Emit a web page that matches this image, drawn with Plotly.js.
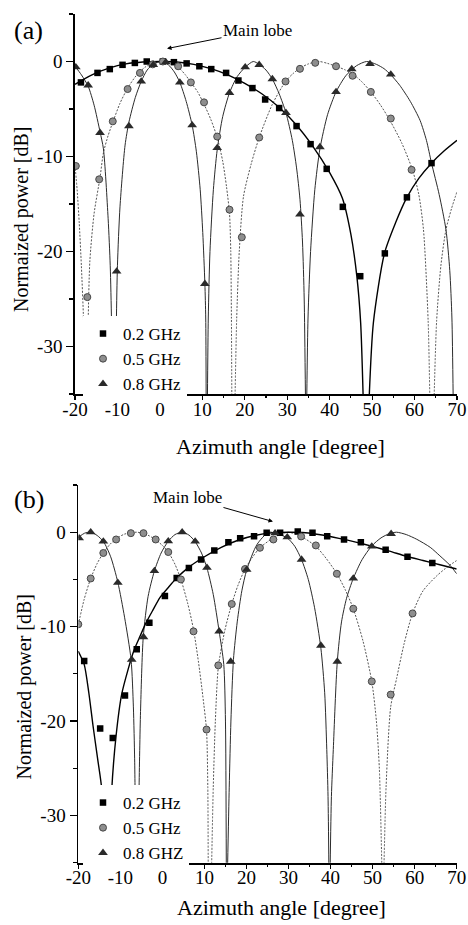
<!DOCTYPE html>
<html>
<head>
<meta charset="utf-8">
<script src="https://cdn.plot.ly/plotly-3.0.1.min.js"></script>
<style>html,body{margin:0;padding:0;background:#fff;}#chart{width:468px;height:925px;}</style>
</head>
<body>
<div id="chart"></div>
<script>
// ---------- tick labels ----------
const xTickVals = [-20, -10, 0, 10, 20, 30, 40, 50, 60, 70];
const xTickText = ['-20', '-10', '0', '10', '20', '30', '40', '50', '60', '70'];
const yTickVals = [-30, -20, -10, 0];
const yTickText = ['-30', '-20', '-10', '0'];

// ---------- series names ----------
const namesA = ['0.2 GHz', '0.5 GHz', '0.8 GHz'];
const namesB = ['0.2 GHz', '0.5 GHz', '0.8 GHZ'];

// ---------- panel (a): measured points ----------
const aSqX = [-18.6, -14.7, -11.8, -8.8, -5.9, -3.1, 0.7, 3.3, 6.3, 9.3, 12.1, 15.6, 18.5, 21.8, 24.8, 28.1, 32.2, 35.5, 39.3, 43.1, 47.2, 53.0, 58.2, 64.0];
const aSqY = [-2.2, -1.2, -0.8, -0.35, -0.15, 0, 0, -0.07, -0.2, -0.5, -0.8, -1.2, -2.0, -2.8, -4.0, -4.9, -6.8, -8.7, -11.3, -15.3, -22.6, -20.2, -14.3, -10.7];
const aCirX = [-19.8, -17.1, -14.3, -11.1, -7.6, -4.7, -1.7, 0.7, 4.3, 7.3, 10.4, 13.5, 16.4, 19.3, 23.4, 29.6, 33.0, 36.6, 41.5, 45.4, 49.7, 54.4, 59.3];
const aCirY = [-11.0, -24.8, -12.4, -6.3, -2.9, -1.2, -0.3, 0, -0.5, -2.2, -4.3, -7.9, -15.6, -18.5, -8.0, -2.1, -0.77, -0.14, -0.5, -1.5, -3.2, -6.0, -11.4];
const aTriX = [-19.8, -16.9, -14.1, -10.2, -7.3, -4.4, -1.55, 1.4, 4.7, 7.6, 10.6, 13.5, 16.4, 20.1, 23.4, 26.5, 29.7, 33.0, 37.7, 41.5, 45.2, 49.5, 54.4];
const aTriY = [-0.6, -2.5, -7.5, -22.1, -6.8, -2.1, -0.35, -0.07, -2.2, -6.7, -23.4, -9.1, -3.3, -0.6, -0.35, -1.85, -5.4, -16.1, -9.0, -3.2, -0.8, -0.25, -1.36];

// ---------- panel (a): calculated curves ([angle, dB], null = gap) ----------
const a02Line = [[-20,-2.4],[-16,-1.4],[-12,-0.7],[-8,-0.25],[-4,-0.05],[0,0],[4,-0.05],[8,-0.3],[12,-0.75],[16,-1.4],[20,-2.3],[24,-3.4],[28,-4.8],[32,-6.6],[36,-8.9],[40,-11.7],[43,-14.4],[45,-18.2],[46.4,-22.6],[47.3,-27.5],[47.9,-35.5],
  null,[49.3,-35.5],[50.3,-27.5],[52.9,-20.2],[55.5,-17],[58.2,-14.3],[61,-12.3],[64,-10.7],[67,-9.4],[70,-8.3]];
const a05Line = [[-20,-10.9],[-19.5,-13.5],[-19,-17],[-18.5,-21.5],[-18,-27.2],[-17.8,-35.5],
  null,[-17.2,-35.5],[-16.9,-27.3],[-16.5,-21],[-15.5,-16],[-14.1,-12.2],[-13.3,-9.6],[-12.2,-7.8],[-11.1,-6.4],[-9.4,-4.4],[-7.6,-2.8],[-5.6,-1.5],[-3.5,-0.6],[-1.5,-0.15],[0.5,0],[2.5,-0.2],[4.3,-0.6],[6,-1.4],[7.3,-2.2],[8.9,-3.2],[10.4,-4.5],[12,-6.1],[13.5,-8],[14.8,-10.5],[15.7,-13.2],[16.4,-16],[16.7,-20],[16.85,-27],[16.95,-35.5],
  null,[17.7,-35.5],[18.1,-27],[18.7,-20],[19.7,-14.2],[21.5,-10.8],[23.4,-8],[26.5,-4.5],[29.6,-2.1],[31.3,-1.3],[33,-0.7],[35,-0.25],[37.5,0],[39.5,-0.2],[41.5,-0.5],[43.5,-0.85],[45.4,-1.3],[47.5,-2.1],[49.7,-3.2],[52,-4.6],[54.2,-6.2],[57,-8.6],[59.5,-11.4],[61,-14],[62.1,-17.7],[63.2,-27.3],[63.6,-35.5],
  null,[64.6,-35.5],[65.2,-27.3],[66.2,-21.5],[67.4,-17.7],[68.7,-15.5],[70,-13.7]];
const a08Line = [[-20,-0.5],[-18.5,-1.4],[-16.9,-2.6],[-15.5,-4.6],[-14.1,-7.4],[-13.3,-9.2],[-12.2,-16.5],[-11.7,-21.5],[-11.4,-27.3],[-11.2,-35.5],
  null,[-10.5,-35.5],[-10.25,-27.3],[-10.0,-21.5],[-9.4,-15.3],[-8.2,-8.8],[-7.3,-6.4],[-5.8,-3.8],[-4.4,-2.1],[-3,-0.9],[-1.5,-0.25],[0.3,0],[2,-0.35],[3.4,-1.1],[4.7,-2.2],[6.2,-4.2],[7.6,-6.7],[8.6,-9.5],[9.5,-13.5],[10.1,-18],[10.6,-23.4],[10.8,-27],[10.9,-35.5],
  null,[11.2,-35.5],[11.4,-27],[11.8,-20],[12.6,-13.5],[13.5,-9.3],[14.8,-5.8],[16.4,-3.3],[18.2,-1.6],[20.1,-0.6],[22,0],[23.4,-0.3],[25,-0.9],[26.5,-1.85],[28.1,-3.4],[29.7,-5.4],[31.2,-8.3],[32.2,-11.2],[33,-14.5],[33.6,-19],[34,-25],[34.3,-35.5],
  null,[34.6,-35.5],[34.9,-27],[35.5,-20],[36.5,-13.5],[37.7,-9.2],[39.5,-5.6],[41.5,-3.2],[43.8,-1.5],[46.3,-0.45],[48.7,0],[51,-0.3],[52.8,-0.75],[54.4,-1.4],[56.5,-2.5],[59,-4.2],[61.3,-6.2],[62.8,-8.3],[64,-10.7],[65.8,-14],[67.4,-17.7],[68.3,-22],[68.8,-27],[69.1,-35.5]];

// ---------- panel (b): measured points ----------
const bSqX = [-18.6, -14.8, -11.8, -8.9, -6.1, -3.1, 0.6, 3.4, 6.3, 9.2, 12.35, 15.7, 18.5, 21.8, 24.8, 28.0, 32.2, 35.7, 39.2, 43.2, 47.2, 53.1, 58.3, 64.2];
const bSqY = [-13.65, -20.8, -21.8, -17.3, -12.4, -9.6, -6.76, -4.86, -3.8, -2.9, -1.93, -1.06, -0.65, -0.42, -0.07, -0.07, 0.07, -0.07, -0.42, -0.77, -1.06, -1.86, -2.6, -3.27];
const bCirX = [-20.0, -17.05, -14.05, -11.0, -7.5, -4.5, -1.6, 1.4, 4.4, 7.4, 10.5, 13.3, 16.5, 19.65, 23.2, 26.4, 33.0, 36.5, 41.5, 45.4, 49.8, 54.3, 59.5];
const bCirY = [-9.75, -4.9, -2.2, -0.77, -0.1, -0.1, -0.77, -2.1, -5.0, -10.5, -20.9, -14.1, -7.6, -3.9, -1.65, -0.77, -0.45, -1.4, -4.4, -8.1, -15.8, -17.2, -8.6];
const bTriX = [-19.8, -17.05, -14.05, -10.6, -7.3, -4.5, -1.9, 1.4, 4.7, 7.8, 10.6, 13.5, 16.25, 20.05, 26.8, 29.7, 33.1, 37.7, 41.6, 45.4, 49.8, 54.4];
const bTriY = [-0.63, 0, -0.98, -5.35, -13.5, -11.1, -4.1, -0.95, 0, -0.98, -3.76, -10.5, -13.7, -3.97, -0.1, -0.53, -2.9, -12.0, -13.7, -4.9, -1.5, -0.17];

// ---------- panel (b): calculated curves ----------
const b02Line = [[-20,-12.6],[-18.6,-14.0],[-17.5,-17],[-16.5,-20.5],[-15.4,-24],[-14.4,-27.3],[-13.9,-35.5],
  null,[-12.6,-35.5],[-12.05,-27.3],[-11,-21.5],[-9.7,-17.2],[-8.2,-14.6],[-6.75,-12.5],[-5.3,-11],[-3.9,-9.6],[-2.2,-8.2],[-0.55,-6.9],[1.5,-5.8],[3.4,-4.86],[6,-3.8],[10,-2.6],[14,-1.6],[18,-0.85],[22,-0.35],[26,-0.07],[30,0],[34,-0.05],[38,-0.3],[42,-0.65],[46,-1.05],[50,-1.5],[54,-2.0],[58,-2.55],[62,-3.0],[66,-3.45],[70,-3.9]];
const b05Line = [[-20,-9.8],[-18.6,-7.1],[-17.05,-4.9],[-15.5,-3.3],[-14.05,-2.2],[-12.5,-1.3],[-11,-0.7],[-9,-0.2],[-6,0],[-3.5,-0.3],[-1.6,-0.8],[0,-1.4],[1.4,-2.1],[3,-3.4],[4.4,-5.0],[6,-7.5],[7.4,-10.3],[8.6,-13.8],[9.6,-17.3],[10.5,-21],[10.8,-27],[10.9,-35.5],
  null,[11.7,-35.5],[12.1,-27],[12.6,-20],[13.3,-14.3],[14.8,-10.5],[16.5,-7.6],[18,-5.6],[19.65,-3.9],[21.5,-2.6],[23.2,-1.65],[26.4,-0.6],[29.8,0],[33,-0.45],[36.5,-1.5],[39,-2.8],[41.5,-4.4],[43.5,-6.1],[45.4,-8.1],[47.7,-11.5],[49.8,-15.8],[50.9,-20],[51.6,-25],[52.2,-35.5],
  null,[52.7,-35.5],[53.2,-27],[54.3,-18.5],[55.7,-15.5],[57.5,-11.8],[59.5,-8.6],[62,-6.2],[65.3,-4.6],[68,-3.6],[70,-3.0]];
const b08Line = [[-20,-0.55],[-18.5,-0.1],[-17,0],[-15.5,-0.35],[-14,-1.0],[-12.3,-2.6],[-10.6,-5.3],[-9,-9.0],[-7.45,-13.5],[-6.9,-18.5],[-6.6,-24],[-6.5,-27.3],[-6.3,-35.5],
  null,[-5.7,-35.5],[-5.55,-27.3],[-5.2,-19],[-4.55,-11.1],[-3.4,-6.8],[-1.9,-4.1],[-0.3,-2.2],[1.4,-0.95],[3,-0.25],[4.7,0],[6.3,-0.3],[7.8,-1.0],[9.3,-2.2],[10.6,-3.8],[12.1,-6.6],[13.5,-10.5],[14.6,-14],[15.0,-20],[15.2,-35.5],
  null,[15.5,-35.5],[15.9,-27],[16.3,-20],[16.9,-13.5],[17.8,-9.5],[18.9,-6.2],[20.05,-4.0],[22.5,-1.3],[25.3,0],[27.5,-0.2],[29.7,-0.6],[31.5,-1.5],[33.1,-2.9],[34.7,-5],[36.2,-8],[37.7,-12.3],[38.6,-17],[39.1,-23],[39.4,-28],[39.6,-35.5],
  null,[39.9,-35.5],[40.2,-28],[40.65,-23],[41.6,-13.7],[42.6,-9.5],[43.8,-7],[45.4,-4.9],[47.5,-2.9],[49.8,-1.45],[52,-0.6],[54,-0.15],[55.7,0],[58,-0.25],[60.5,-0.75],[63.7,-1.6],[66,-2.5],[68.4,-3.5],[70,-4.4]];

// ---------- styles ----------
const FONT = 'Liberation Serif, Times New Roman, serif';
const lineStyles = [
  {color: '#000000', width: 1.4},
  {color: '#555555', width: 1.0, dash: '2px,1.5px'},
  {color: '#2b2b2b', width: 1.0}
];
const markerStyles = [
  {symbol: 'square', size: 6.5, color: '#000000'},
  {symbol: 'circle', size: 7, color: '#8e8e8e', line: {color: '#474747', width: 1}},
  {symbol: 'triangle-up', size: 8.5, color: '#2a2a2a', line: {width: 0}}
];

function lineTrace(pairs, style, xa, ya) {
  return {
    x: pairs.map(p => p ? p[0] : null),
    y: pairs.map(p => p ? p[1] : null),
    mode: 'lines', line: Object.assign({shape: 'spline', smoothing: 0.7}, style),
    xaxis: xa, yaxis: ya, showlegend: false, hoverinfo: 'skip', connectgaps: false
  };
}
function markerTrace(xs, ys, name, style, xa, ya, leg) {
  return {x: xs, y: ys, name: name, mode: 'markers', marker: style,
          xaxis: xa, yaxis: ya, legend: leg, showlegend: true};
}

const data = [
  lineTrace(a05Line, lineStyles[1], 'x', 'y'),
  lineTrace(a08Line, lineStyles[2], 'x', 'y'),
  lineTrace(a02Line, lineStyles[0], 'x', 'y'),
  markerTrace(aSqX, aSqY, namesA[0], markerStyles[0], 'x', 'y', 'legend'),
  markerTrace(aCirX, aCirY, namesA[1], markerStyles[1], 'x', 'y', 'legend'),
  markerTrace(aTriX, aTriY, namesA[2], markerStyles[2], 'x', 'y', 'legend'),
  lineTrace(b05Line, lineStyles[1], 'x2', 'y2'),
  lineTrace(b08Line, lineStyles[2], 'x2', 'y2'),
  lineTrace(b02Line, lineStyles[0], 'x2', 'y2'),
  markerTrace(bSqX, bSqY, namesB[0], markerStyles[0], 'x2', 'y2', 'legend2'),
  markerTrace(bCirX, bCirY, namesB[1], markerStyles[1], 'x2', 'y2', 'legend2'),
  markerTrace(bTriX, bTriY, namesB[2], markerStyles[2], 'x2', 'y2', 'legend2')
];

function xAxis(domain, anchor) {
  return {
    domain: domain, anchor: anchor, range: [-20, 70], tickmode: 'array',
    tickvals: xTickVals, ticktext: xTickText, ticks: 'outside', ticklen: 4, tickwidth: 1.2,
    tickcolor: '#000', showline: true, linecolor: '#000', linewidth: 1.8,
    showgrid: false, zeroline: false, fixedrange: true, ticklabelstandoff: -7,
    tickfont: {family: FONT, size: 19, color: '#000'},
    minor: {tickmode: 'linear', tick0: -20, dtick: 5, ticks: 'outside', ticklen: 2.5, tickcolor: '#000', showgrid: false}
  };
}
function yAxis(domain, anchor) {
  return {
    domain: domain, anchor: anchor, range: [-35, 5], tickmode: 'array',
    tickvals: yTickVals, ticktext: yTickText, ticks: 'outside', ticklen: 7, tickwidth: 1.2,
    tickcolor: '#000', showline: true, linecolor: '#000', linewidth: 1.8,
    showgrid: false, zeroline: false, fixedrange: true,
    tickfont: {family: FONT, size: 19, color: '#000'},
    minor: {tickmode: 'linear', tick0: -35, dtick: 5, ticks: 'outside', ticklen: 4, tickcolor: '#000', showgrid: false}
  };
}

const W = 468, H = 925;
const px = v => v / W, py = v => 1 - v / H;

const legendStyle = (ytop) => ({
  x: px(83), y: py(ytop), xanchor: 'left', yanchor: 'top',
  bgcolor: '#ffffff', borderwidth: 0,
  font: {family: FONT, size: 17, color: '#000'}, itemclick: false, itemdoubleclick: false
});

function paperText(text, x, y, size, angle) {
  return {text: text, xref: 'paper', yref: 'paper', x: px(x), y: py(y), xanchor: 'center', yanchor: 'middle',
          textangle: angle || 0, showarrow: false, font: {family: FONT, size: size, color: '#000'}};
}

const layout = {
  width: W, height: H,
  margin: {l: 0, r: 0, t: 0, b: 0},
  paper_bgcolor: '#fff', plot_bgcolor: '#fff',
  font: {family: FONT, color: '#000'},
  xaxis: xAxis([px(75), px(457)], 'y'),
  yaxis: yAxis([py(394), py(14)], 'x'),
  xaxis2: xAxis([px(78.3), px(456.7)], 'y2'),
  yaxis2: yAxis([py(862.7), py(485)], 'x2'),
  legend: legendStyle(316),
  legend2: legendStyle(785),
  annotations: [
    paperText('(a)', 28, 30, 26),
    paperText('(b)', 29, 499, 26),
    {text: 'Main lobe', xref: 'x', yref: 'y', x: 1.68, y: 1.36, ax: 90.5, ay: -18, showarrow: true,
     arrowhead: 2, arrowsize: 0.9, arrowwidth: 1, arrowcolor: '#000', font: {family: FONT, size: 17, color: '#000'}},
    {text: 'Main lobe', xref: 'x2', yref: 'y2', x: 26.3, y: 1.13, ax: -85.5, ay: -24.3, showarrow: true,
     arrowhead: 2, arrowsize: 0.9, arrowwidth: 1, arrowcolor: '#000', font: {family: FONT, size: 17, color: '#000'}},
    paperText('Azimuth angle [degree]', 280, 447, 22),
    paperText('Azimuth angle [degree]', 281, 907, 22),
    paperText('Normaized power [dB]', 21.5, 219.5, 20, -90),
    paperText('Normaized power [dB]', 24, 686.5, 20, -90)
  ]
};

Plotly.newPlot('chart', data, layout, {displayModeBar: false, staticPlot: true});
</script>
</body>
</html>
